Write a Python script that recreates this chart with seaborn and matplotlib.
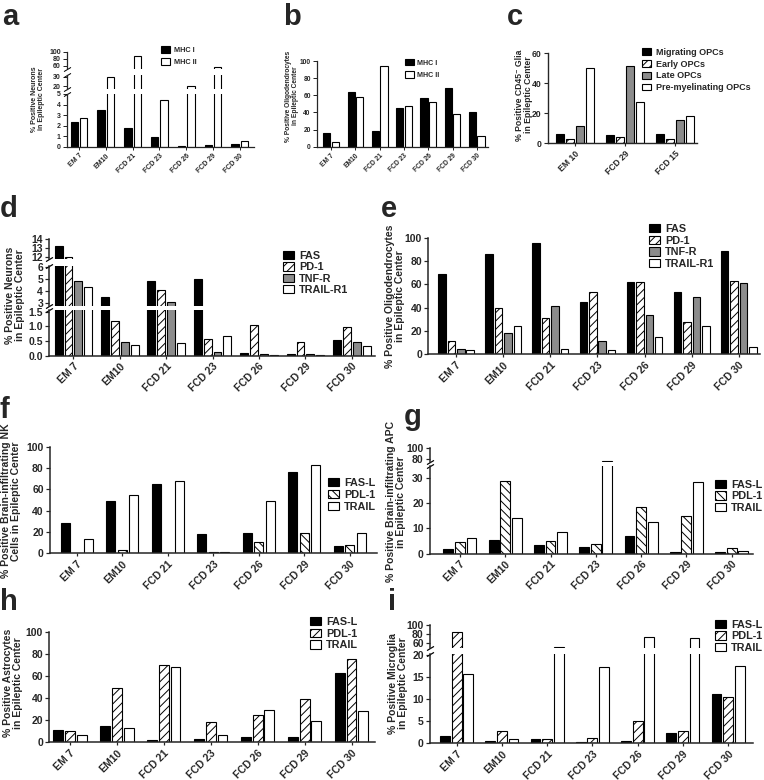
import pandas as pd
import matplotlib.pyplot as plt
import seaborn as sns
from matplotlib.patches import Patch

sns.set_style('white')
plt.rcParams['font.family'] = ['Liberation Sans', 'DejaVu Sans']
plt.rcParams['font.weight'] = 'bold'
plt.rcParams['hatch.linewidth'] = 0.7

W, H = 764, 780

# Samples
samples = ['EM 7', 'EM10', 'FCD 21', 'FCD 23', 'FCD 26', 'FCD 29', 'FCD 30']
opc_samples = ['EM 10', 'FCD 29', 'FCD 15']

# a: neurons, MHC
neuron_mhc1 = [2.35, 3.45, 1.8, 0.9, 0.08, 0.12, 0.3]
neuron_mhc2 = [2.7, 30, 88, 4.45, 20.7, 55, 0.58]

# b: oligodendrocytes, MHC
oligo_mhc1 = [15.6, 64.2, 18, 44.7, 57.2, 68, 40.5]
oligo_mhc2 = [5.8, 58, 94.2, 47, 52.5, 38.5, 12.5]

# c: CD45- glia, OPC stages
opc_migrating = [6.2, 5.6, 6.0]
opc_early = [2.7, 4.4, 2.7]
opc_late = [11.8, 51.3, 15.6]
opc_premyel = [50.2, 27.3, 18.2]

# d: neurons, death receptors
neuron_fas = [13.25, 3.5, 4.85, 5.0, 0.1, 0.05, 0.53]
neuron_pd1 = [12.05, 1.17, 4.05, 0.58, 1.03, 0.45, 0.97]
neuron_tnfr = [4.85, 0.47, 3.05, 0.12, 0.05, 0.05, 0.47]
neuron_trailr1 = [4.35, 0.38, 0.43, 0.68, 0.02, 0.02, 0.32]

# e: oligodendrocytes, death receptors
oligo_fas = [68.9, 85.7, 95.1, 44.9, 62.3, 53.7, 88.6]
oligo_pd1 = [11.7, 39.4, 30.9, 53.4, 62.3, 27.4, 63.1]
oligo_tnfr = [4.6, 18, 41.7, 11.7, 33.4, 48.9, 60.9]
oligo_trailr1 = [4.0, 24.6, 4.6, 3.7, 14.9, 24.6, 6.0]

# f: NK cells, ligands
nk_fasl = [28.7, 49.4, 65.3, 17.8, 18.8, 75.9, 7.2]
nk_pdl1 = [0, 2.8, 0.5, 1.5, 10.9, 18.8, 7.8]
nk_trail = [13.8, 54.7, 67.5, 1.5, 49, 82.5, 19.4]

# g: APC, ligands
apc_fasl = [1.6, 5.4, 3.3, 2.6, 6.8, 0.7, 0.5]
apc_pdl1 = [4.6, 29, 5.0, 3.8, 18.3, 15, 2.0]
apc_trail = [6.0, 14.1, 8.4, 77, 12.6, 28.5, 1.05]

# h: astrocytes, ligands
astro_fasl = [10.8, 14.5, 2.0, 2.7, 5.1, 5.1, 63]
astro_pdl1 = [10, 49.4, 69.9, 18.7, 24.4, 39.5, 75.6]
astro_trail = [6.6, 13.3, 67.8, 6.3, 29.5, 19.6, 28.6]

# i: microglia, ligands
micro_fasl = [1.6, 0.5, 0.9, 0.2, 0.6, 2.4, 11.2]
micro_pdl1 = [85.3, 2.8, 0.9, 1.1, 5.0, 2.8, 10.4]
micro_trail = [15.7, 1.0, 50.8, 17.2, 72.4, 70, 17.5]

BLACK, GREY, WHITE = 'black', '#8c8c8c', 'white'
FWD, BACK = '////', '\\' * 4

fig = plt.figure(figsize=(W / 100, H / 100), dpi=100)


def long_table(cats, series):
    rows = []
    for name, vals in series.items():
        for c, v in zip(cats, vals):
            rows.append((c, name, v))
    return pd.DataFrame(rows, columns=['sample', 'marker', 'value'])


def panel(letter, letter_xy, cats, series, styles, x0, x1, segs, xlim, width, gap,
          ylabel, ylabel_xy, leg_xy, fs, lw=1.1, leg_space=0.12, leg_box=(1.0, 0.8)):
    df = long_table(cats, series)
    names = list(series.keys())
    pal = {n: s[0] for n, s in zip(names, styles)}
    n = len(segs)
    for i, (lo, hi, ytop, ybot, ticks) in enumerate(segs):
        ax = fig.add_axes([x0 / W, 1 - ybot / H, (x1 - x0) / W, (ybot - ytop) / H])
        sns.barplot(data=df, x='sample', y='value', hue='marker', order=cats,
                    hue_order=names, palette=pal, saturation=1, width=width, gap=gap,
                    edgecolor='black', linewidth=0.8, legend=False, ax=ax)
        for cont, (fc, hatch) in zip(ax.containers, styles):
            for bar in cont:
                bar.set_hatch(hatch)
        ax.set_ylim(lo, hi)
        ax.set_xlim(*xlim)
        ax.set_yticks(ticks)
        fmt = '{:.0f}' if all(float(t).is_integer() for t in ticks) else '{:.1f}'
        ax.set_yticklabels([fmt.format(t) for t in ticks], fontsize=fs, fontweight='bold')
        ax.set_xlabel('')
        ax.set_ylabel('')
        sns.despine(ax=ax)
        ax.patch.set_alpha(0)
        for sp in ('left', 'bottom'):
            ax.spines[sp].set_linewidth(lw)
        ax.tick_params(axis='y', length=3, width=lw * 0.8, pad=1.5, left=True)
        if i == n - 1:
            ax.set_xticks(range(len(cats)))
            ax.set_xticklabels(cats, rotation=45, ha='right', rotation_mode='anchor',
                               fontsize=fs, fontweight='bold')
            ax.tick_params(axis='x', length=2.5, width=lw * 0.8, pad=1.5, bottom=True)
        else:
            ax.spines['bottom'].set_visible(False)
            ax.tick_params(axis='x', bottom=False, labelbottom=False)
        mk = dict(marker=[(-1, -0.6), (1, 0.6)], markersize=5, linestyle='none',
                  color='k', mec='k', mew=lw * 0.8, clip_on=False, transform=ax.transAxes)
        if i < n - 1:
            ax.plot([0], [0], **mk)
        if i > 0:
            ax.plot([0], [1], **mk)

    fig.text(letter_xy[0] / W, 1 - letter_xy[1] / H, letter, fontsize=21,
             fontweight='bold', va='baseline', ha='left')
    fig.text(ylabel_xy[0] / W, 1 - ylabel_xy[1] / H, ylabel, rotation=90,
             ha='center', va='center', multialignment='center', fontsize=fs,
             fontweight='bold', linespacing=1.1)
    handles = [Patch(facecolor=fc, edgecolor='black', hatch=h, linewidth=0.8, label=nm)
               for nm, (fc, h) in zip(names, styles)]
    fig.legend(handles=handles, loc='upper left',
               bbox_to_anchor=(leg_xy[0] / W, 1 - leg_xy[1] / H), frameon=False,
               borderpad=0, borderaxespad=0, handlelength=leg_box[0],
               handleheight=leg_box[1], handletextpad=0.5, labelspacing=leg_space,
               prop={'size': fs + 0.3, 'weight': 'bold'})


mhc_styles = [(BLACK, ''), (WHITE, '')]
rec_styles = [(BLACK, ''), (WHITE, FWD), (GREY, ''), (WHITE, '')]
lig_fwd = [(BLACK, ''), (WHITE, FWD), (WHITE, '')]
lig_back = [(BLACK, ''), (WHITE, BACK), (WHITE, '')]
ticks100 = [0, 20, 40, 60, 80, 100]

panel('a', (2, 25), samples, {'MHC I': neuron_mhc1, 'MHC II': neuron_mhc2}, mhc_styles,
      67, 254,
      [(52, 100, 51.7, 68.5, [60, 80, 100]),
       (17.5, 32, 74.8, 88.7, [20, 30]),
       (0, 5, 94, 146.7, [0, 1, 2, 3, 4, 5])],
      (-0.45, 6.53), 0.7, 0.2,
      '% Positive Neurons\nin Epileptic Center', (38, 99), (161, 46), 5.0, lw=0.9,
      leg_space=0.6, leg_box=(1.2, 1.0))

panel('b', (283, 25), samples, {'MHC I': oligo_mhc1, 'MHC II': oligo_mhc2}, mhc_styles,
      317, 488, [(0, 100, 61, 146.7, ticks100)],
      (-0.58, 6.46), 0.7, 0.15,
      '% Positive Oligodendrocytes\nin Epileptic Center', (292, 96), (405, 59), 4.8, lw=0.9,
      leg_space=0.65, leg_box=(1.2, 1.0))

panel('c', (507, 25), opc_samples,
      {'Migrating OPCs': opc_migrating, 'Early OPCs': opc_early,
       'Late OPCs': opc_late, 'Pre-myelinating OPCs': opc_premyel}, rec_styles,
      548, 697, [(0, 60, 53.3, 143.3, [0, 20, 40, 60])],
      (-0.53, 2.44), 0.8, 0.2,
      '% Positive CD45\u207b Glia\nin Epileptic Center', (524, 95), (642, 48), 6.2, lw=1.0,
      leg_space=0.3)

panel('d', (0, 217), samples,
      {'FAS': neuron_fas, 'PD-1': neuron_pd1, 'TNF-R': neuron_tnfr,
       'TRAIL-R1': neuron_trailr1}, rec_styles,
      49.3, 375,
      [(11.8, 14, 239.3, 259.1, [12, 13, 14]),
       (2.7, 6.1, 265.5, 306.3, [3, 4, 5, 6]),
       (0, 1.55, 310.2, 355.7, [0, 0.5, 1.0, 1.5])],
      (-0.52, 6.5), 0.85, 0.2,
      '% Positive Neurons\nin Epileptic Center', (15, 295), (283, 251), 7.5)

panel('e', (381, 217), samples,
      {'FAS': oligo_fas, 'PD-1': oligo_pd1, 'TNF-R': oligo_tnfr,
       'TRAIL-R1': oligo_trailr1}, rec_styles,
      428.3, 760, [(0, 100, 237.7, 354.3, ticks100)],
      (-0.59, 6.45), 0.8, 0.2,
      '% Positive Oligodendrocytes\nin Epileptic Center', (395, 296), (649, 224), 7.5,
      leg_space=0.15)

panel('f', (0, 418), samples,
      {'FAS-L': nk_fasl, 'PDL-1': nk_pdl1, 'TRAIL': nk_trail}, lig_back,
      50, 377, [(0, 100, 446.7, 553.3, ticks100)],
      (-0.59, 6.6), 0.75, 0.2,
      '% Positive Brain-infiltrating NK\nCells in Epileptic Center', (11, 501), (328, 478), 7.5,
      leg_space=0.18)

panel('g', (404, 425), samples,
      {'FAS-L': apc_fasl, 'PDL-1': apc_pdl1, 'TRAIL': apc_trail}, lig_back,
      430, 753,
      [(75, 100, 448.3, 461.7, [80, 100]),
       (0, 35, 465.5, 553.5, [0, 10, 20, 30])],
      (-0.66, 6.47), 0.77, 0.15,
      '% Positive Brain-infiltrating APC\nin Epileptic Center', (396, 502), (715, 480), 7.5)

panel('h', (0, 610), samples,
      {'FAS-L': astro_fasl, 'PDL-1': astro_pdl1, 'TRAIL': astro_trail}, lig_fwd,
      49.3, 375, [(0, 100, 631.7, 742.3, ticks100)],
      (-0.44, 6.5), 0.75, 0.16,
      '% Positive Astrocytes\nin Epileptic Center', (13, 683), (310, 617), 7.5,
      leg_space=0.15)

panel('i', (388, 610), samples,
      {'FAS-L': micro_fasl, 'PDL-1': micro_pdl1, 'TRAIL': micro_trail}, lig_fwd,
      430, 753,
      [(47, 100, 625.3, 648.3, [60, 80, 100]),
       (0, 20.2, 653.8, 743.3, [0, 5, 10, 15, 20])],
      (-0.59, 6.55), 0.77, 0.15,
      '% Positive Microglia\nin Epileptic Center', (398, 683), (715, 620), 7.5)

fig.savefig('out.png', dpi=100)
